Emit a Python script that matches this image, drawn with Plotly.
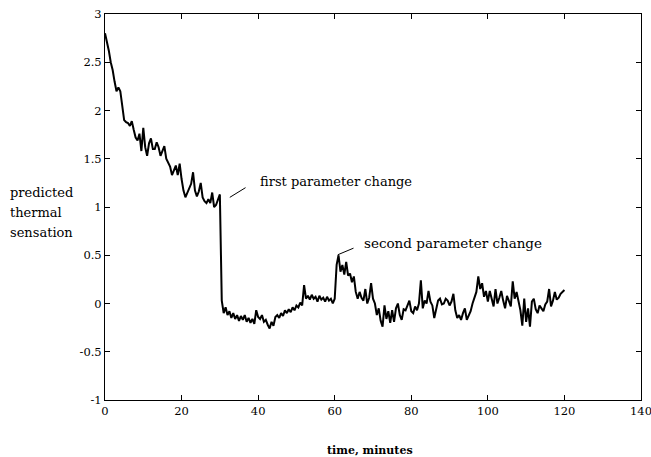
import plotly.graph_objects as go

# time in minutes (0.5-minute samples) and predicted thermal sensation
time_min = [i * 0.5 for i in range(241)]

sensation_0_30 = [
    2.80, 2.72, 2.62, 2.50, 2.42, 2.30, 2.20, 2.24, 2.20, 2.05,
    1.90, 1.88, 1.87, 1.84, 1.89, 1.80, 1.72, 1.69, 1.76, 1.58,
    1.82, 1.62, 1.53, 1.66, 1.71, 1.60, 1.60, 1.67, 1.62, 1.53,
    1.58, 1.63, 1.50, 1.46, 1.42, 1.33, 1.38, 1.43, 1.33, 1.45,
    1.29, 1.17, 1.10, 1.15, 1.18, 1.24, 1.36, 1.17, 1.11, 1.16,
    1.25, 1.10, 1.06, 1.04, 1.08, 1.04, 1.15, 1.00, 1.02, 1.08,
]
sensation_30_60 = [
    1.13, 0.03, -0.10, -0.04, -0.12, -0.08, -0.15, -0.10, -0.16, -0.12,
    -0.18, -0.13, -0.17, -0.12, -0.19, -0.15, -0.20, -0.16, -0.21, -0.07,
    -0.14, -0.16, -0.12, -0.19, -0.17, -0.22, -0.26, -0.19, -0.23, -0.14,
    -0.12, -0.15, -0.10, -0.13, -0.07, -0.10, -0.06, -0.09, -0.04, -0.07,
    -0.02, -0.04, 0.01, -0.02, 0.19, 0.05, 0.08, 0.04, 0.09, 0.05,
    0.07, 0.02, 0.08, 0.04, 0.06, 0.02, 0.07, 0.03, 0.05, 0.00,
]
sensation_60_90 = [
    0.05, 0.40, 0.50, 0.33, 0.40, 0.30, 0.43, 0.29, 0.31, 0.22,
    0.28, 0.12, 0.05, 0.12, 0.06, 0.03, 0.15, 0.00, 0.06, 0.21,
    0.05, 0.00, -0.12, -0.05, -0.18, -0.24, -0.02, -0.16, -0.08, -0.20,
    -0.07, -0.19, -0.05, 0.00, -0.12, -0.17, -0.06, -0.07, -0.02, 0.03,
    -0.08, -0.10, -0.03, -0.07, 0.00, 0.24, -0.05, 0.03, 0.00, 0.13,
    0.02, -0.02, -0.15, -0.05, 0.03, 0.05, -0.01, 0.00, 0.05, 0.03,
]
sensation_90_120 = [
    -0.02, 0.02, 0.10, -0.07, -0.15, -0.12, -0.17, -0.10, -0.05, -0.17,
    -0.12, -0.08, 0.00, 0.06, 0.12, 0.28, 0.15, 0.21, 0.07, 0.13,
    0.02, 0.13, 0.05, -0.03, 0.15, 0.00, 0.06, 0.13, 0.03, -0.05,
    0.08, 0.02, -0.03, 0.23, 0.05, 0.12, 0.04, -0.07, -0.23, 0.05,
    -0.19, -0.05, -0.24, 0.02, 0.05, -0.06, -0.10, -0.02, -0.05, -0.08,
    -0.01, 0.02, 0.15, -0.03, 0.03, 0.12, 0.04, 0.06, 0.10, 0.12,
    0.14,
]
sensation = sensation_0_30 + sensation_30_60 + sensation_60_90 + sensation_90_120

x_ticks = [0, 20, 40, 60, 80, 100, 120, 140]
y_ticks = [-1, -0.5, 0, 0.5, 1, 1.5, 2, 2.5, 3]
y_tick_text = ["-1", "-0.5", "0", "0.5", "1", "1.5", "2", "2.5", "3"]

annotations_text = ["first parameter change", "second parameter change"]
y_label_lines = ["predicted", "thermal", "sensation"]

FONT = "DejaVu Serif"

fig = go.Figure()
fig.add_trace(go.Scatter(
    x=time_min, y=sensation, mode="lines",
    line=dict(color="black", width=2),
    showlegend=False, hoverinfo="skip",
))

axis_common = dict(
    showgrid=False, zeroline=False, showline=True, linecolor="black", linewidth=1,
    mirror="ticks", ticks="inside", ticklen=5, tickcolor="black", tickwidth=1,
    tickfont=dict(family=FONT, size=11.5, color="black"), automargin=False,
    ticklabeloverflow="allow",
)
fig.update_xaxes(range=[0, 140], tickvals=x_ticks, **axis_common)
fig.update_yaxes(range=[-1, 3], tickvals=y_ticks, ticktext=y_tick_text, **axis_common)

fig.add_annotation(x=32.6, y=1.10, ax=37.1, ay=1.21, axref="x", ayref="y",
                   text="", showarrow=True, arrowhead=0, arrowwidth=1, arrowcolor="black")
fig.add_annotation(x=40.0, y=1.26, text=annotations_text[0], showarrow=False,
                   xanchor="left", yanchor="middle",
                   font=dict(family=FONT, size=13, color="black"))
fig.add_annotation(x=60.8, y=0.505, ax=65.3, ay=0.58, axref="x", ayref="y",
                   text="", showarrow=True, arrowhead=0, arrowwidth=1, arrowcolor="black")
fig.add_annotation(x=67.1, y=0.63, text=annotations_text[1], showarrow=False,
                   xanchor="left", yanchor="middle",
                   font=dict(family=FONT, size=13.5, color="black"))

# y-axis label: three horizontal lines left of the axis
for i, line in enumerate(y_label_lines):
    fig.add_annotation(xref="paper", yref="paper", x=-0.181, y=(400 - 192 - 20 * i) / 386,
                       text=line, showarrow=False,
                       xanchor="left", yanchor="middle", align="left",
                       font=dict(family=FONT, size=13, color="black"))

fig.add_annotation(xref="paper", yref="paper", x=(370 - 105) / 536, y=-50 / 386,
                   text="<b>time, minutes</b>", showarrow=False,
                   xanchor="center", yanchor="middle",
                   font=dict(family=FONT, size=11, color="black"))

fig.update_layout(
    width=651, height=457,
    margin=dict(l=105, r=10, t=14, b=57),
    paper_bgcolor="white", plot_bgcolor="white",
)

# remove the browser's default page margin so the figure sits at the window origin
fig.write_html(
    "out.html",
    config={"displayModeBar": False},
    post_script="document.body.style.margin='0';document.body.style.overflow='hidden';",
)
